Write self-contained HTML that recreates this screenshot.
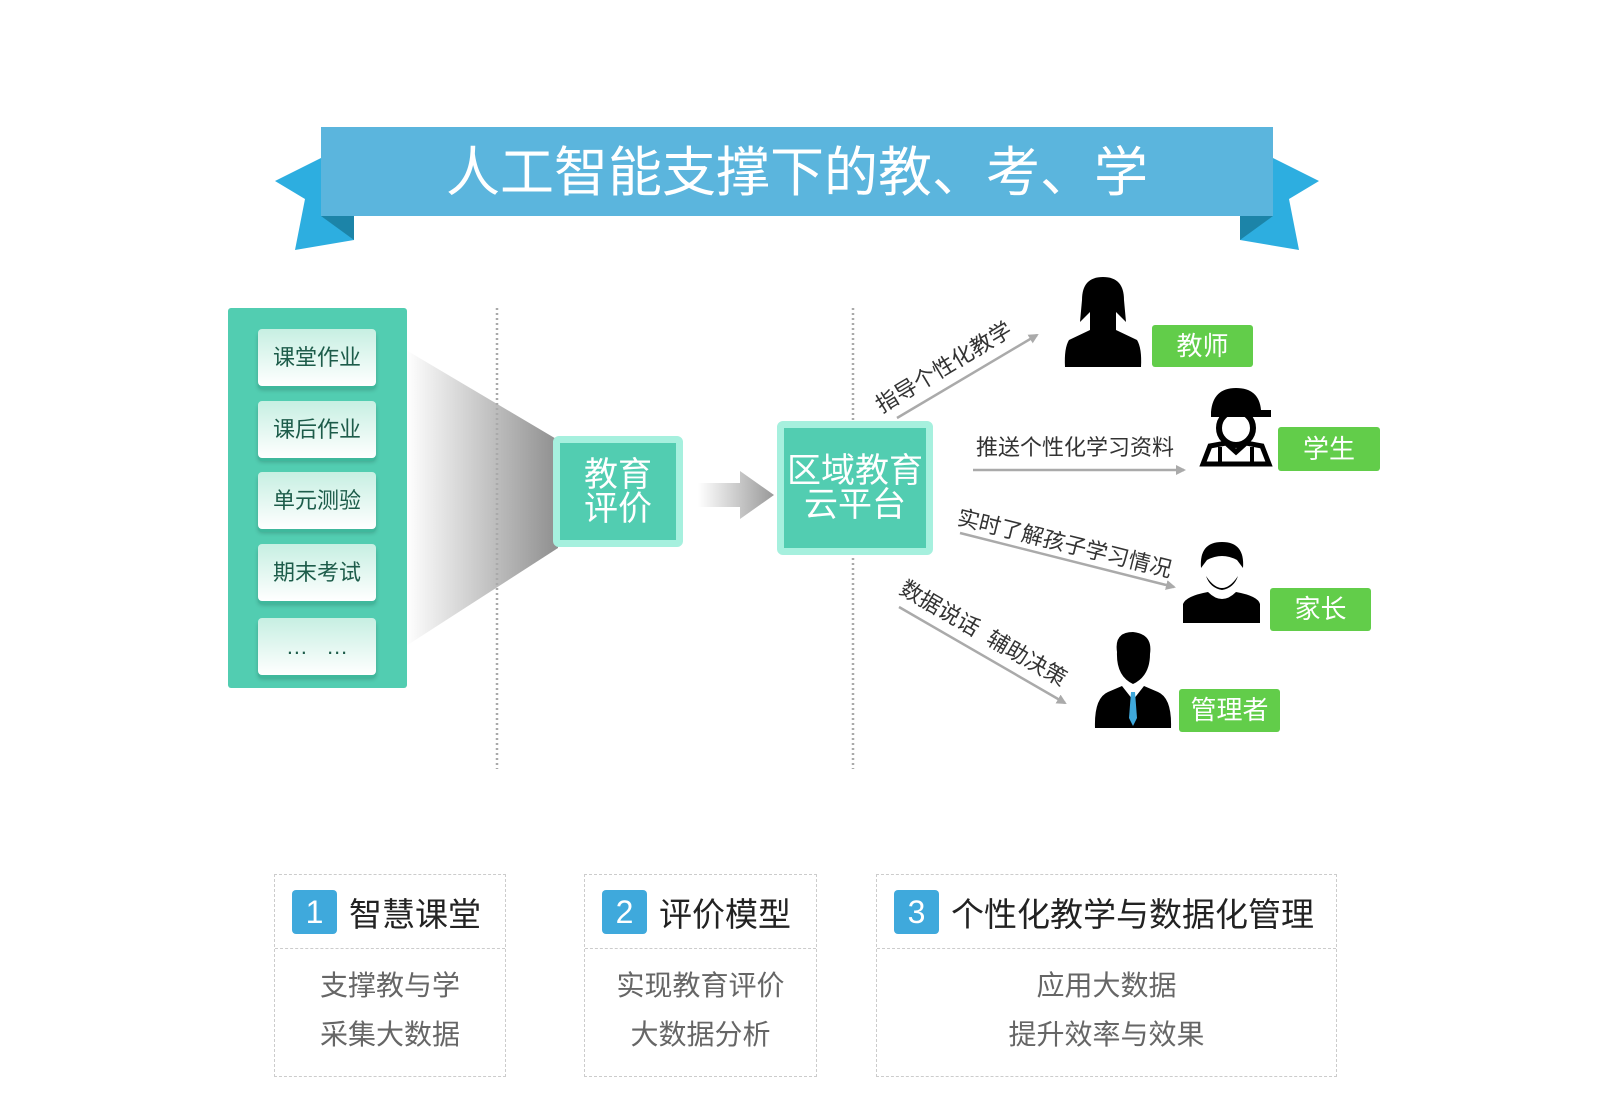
<!DOCTYPE html>
<html><head><meta charset="utf-8">
<style>
*{margin:0;padding:0;box-sizing:border-box}
body{width:1600px;height:1104px;background:#fff;position:relative;overflow:hidden;font-family:"Liberation Sans","Noto Sans CJK SC",sans-serif}
.a{position:absolute}
.item{position:absolute;left:258px;width:118px;height:57px;border-radius:4px;background:linear-gradient(#c6efe2,#fff);box-shadow:0 3px 0 #3fb89c,0 4px 4px rgba(0,0,0,.2);color:#1d5c4a;font-size:22px;text-align:center;line-height:57px}
.box{position:absolute;background:#52cdb1;border:7px solid #a6f0de;border-radius:6px;color:#fff;text-align:center;font-size:34px;line-height:34px;display:flex;align-items:center;justify-content:center}
.lab{position:absolute;background:#62cd4a;color:#fff;font-size:26px;text-align:center;border-radius:3px}
.card{position:absolute;top:874px;height:203px;border:1px dashed #ccc}
.card .hd{height:74px;border-bottom:1px dashed #ccc;display:flex;align-items:center;padding-left:17px;font-size:33px;color:#222}
.num{width:45px;height:44px;background:#3fa9dc;color:#fff;border-radius:4px;text-align:center;line-height:44px;font-size:32px;margin-right:12px}
.card .bd{text-align:center;color:#666;font-size:28px;line-height:49px;padding-top:12px}
.rl{position:absolute;color:#333;font-size:22px;white-space:nowrap;transform-origin:center}
</style></head><body>
<svg class="a" style="left:0;top:0" width="1600" height="1104">
<defs>
<linearGradient id="fun" x1="0" x2="1"><stop offset="0" stop-color="#fff"/><stop offset="1" stop-color="#8f8f8f"/></linearGradient>
<linearGradient id="arr" x1="0" x2="1"><stop offset="0" stop-color="#fff"/><stop offset="1" stop-color="#999"/></linearGradient>
<marker id="m" markerWidth="10" markerHeight="10" refX="8" refY="5" orient="auto" markerUnits="userSpaceOnUse"><path d="M0,0 L10,5 L0,10 Z" fill="#aaa"/></marker>
</defs>
<polygon points="321,158 275,181 305,199 295,250 354,240 354,216 321,216" fill="#2daee0"/>
<polygon points="321,216 354,216 354,240" fill="#1c84a8"/>
<polygon points="1273,158 1319,181 1289,199 1299,250 1240,240 1240,216 1273,216" fill="#2daee0"/>
<polygon points="1273,216 1240,216 1240,240" fill="#1c84a8"/>
<rect x="321" y="127" width="952" height="89" fill="#5bb5dd"/>
<text x="797" y="191" text-anchor="middle" fill="#fff" font-size="54" font-family="Liberation Sans,Noto Sans CJK SC,sans-serif">人工智能支撑下的教、考、学</text>
<polygon points="406,350 558,440 558,548 406,646" fill="url(#fun)"/>
<line x1="497" y1="308" x2="497" y2="769" stroke="#aaa" stroke-width="2.5" stroke-dasharray="2,3"/>
<line x1="853" y1="308" x2="853" y2="769" stroke="#aaa" stroke-width="2.5" stroke-dasharray="2,3"/>
<polygon points="698,483 740,483 740,471 774,495 740,519 740,507 698,507" fill="url(#arr)"/>
<g stroke="#aaa" stroke-width="2.5" fill="none">
<line x1="897" y1="418" x2="1037" y2="335" marker-end="url(#m)"/>
<line x1="973" y1="470" x2="1184" y2="470" marker-end="url(#m)"/>
<line x1="960" y1="533" x2="1174" y2="587" marker-end="url(#m)"/>
<line x1="899" y1="607" x2="1065" y2="703" marker-end="url(#m)"/>
</g>
<g fill="#000">
<path d="M1082,300 Q1082,277 1103,277 Q1124,277 1124,300 L1126,322 L1116,312 L1116,330 L1137,340 Q1142,348 1141,367 L1065,367 Q1064,348 1069,340 L1090,330 L1090,312 L1080,322 Z"/>
</g>
<g>
<path d="M1211,412 Q1213,388 1236,388 Q1259,388 1261,410 L1271,410 L1271,417 L1211,417 Z" fill="#000"/>
<circle cx="1236" cy="428" r="17" fill="none" stroke="#000" stroke-width="6"/>
<path d="M1203,464 L1210,446 L1226,443 L1236,452 L1246,443 L1262,446 L1269,464 Z" fill="none" stroke="#000" stroke-width="5"/>
<line x1="1220" y1="447" x2="1220" y2="464" stroke="#000" stroke-width="4"/><line x1="1252" y1="447" x2="1252" y2="464" stroke="#000" stroke-width="4"/>
</g>
<g fill="#000">
<path d="M1201,568 Q1199,542 1222,542 Q1245,542 1243,568 L1237,560 Q1222,552 1207,560 Z"/>
<path d="M1206,576 Q1222,600 1238,576 Q1234,588 1222,590 Q1210,588 1206,576 Z"/>
<path d="M1183,623 L1183,604 Q1186,596 1208,592 Q1222,606 1236,592 Q1258,596 1260,604 L1260,623 Z"/>
</g>
<g>
<path d="M1117,652 Q1114,632 1133,632 Q1153,634 1150,654 Q1150,676 1133,684 Q1116,676 1117,652 Z" fill="#000"/>
<path d="M1095,728 Q1094,698 1108,692 L1122,686 L1133,700 L1144,686 L1158,692 Q1172,698 1171,728 Z" fill="#000"/>
<path d="M1131,692 L1135,692 L1137,718 L1133,726 L1129,718 Z" fill="#3fa9dc"/>
</g>
</svg>
<div class="a" style="left:228px;top:308px;width:179px;height:380px;background:#52cdb1;border-radius:3px"></div>
<div class="item" style="top:329px">课堂作业</div>
<div class="item" style="top:401px">课后作业</div>
<div class="item" style="top:472px">单元测验</div>
<div class="item" style="top:544px">期末考试</div>
<div class="item" style="top:618px">…&nbsp;&nbsp;&nbsp;…</div>
<div class="box" style="left:553px;top:436px;width:130px;height:111px">教育<br>评价</div>
<div class="box" style="left:777px;top:421px;width:156px;height:134px">区域教育<br>云平台</div>
<div class="rl" style="left:866px;top:350px;transform:rotate(-31deg)">指导个性化教学</div>
<div class="rl" style="left:976px;top:430px">推送个性化学习资料</div>
<div class="rl" style="left:955px;top:526px;transform:rotate(14deg)">实时了解孩子学习情况</div>
<div class="rl" style="left:890px;top:616px;transform:rotate(30deg)">数据说话&nbsp;&nbsp;辅助决策</div>
<div class="lab" style="left:1152px;top:325px;width:101px;height:42px;line-height:42px">教师</div>
<div class="lab" style="left:1278px;top:427px;width:102px;height:44px;line-height:44px">学生</div>
<div class="lab" style="left:1270px;top:588px;width:101px;height:43px;line-height:43px">家长</div>
<div class="lab" style="left:1179px;top:689px;width:101px;height:43px;line-height:43px">管理者</div>
<div class="card" style="left:274px;width:232px"><div class="hd"><div class="num">1</div>智慧课堂</div><div class="bd">支撑教与学<br>采集大数据</div></div>
<div class="card" style="left:584px;width:233px"><div class="hd"><div class="num">2</div>评价模型</div><div class="bd">实现教育评价<br>大数据分析</div></div>
<div class="card" style="left:876px;width:461px"><div class="hd"><div class="num">3</div>个性化教学与数据化管理</div><div class="bd">应用大数据<br>提升效率与效果</div></div>
</body></html>
